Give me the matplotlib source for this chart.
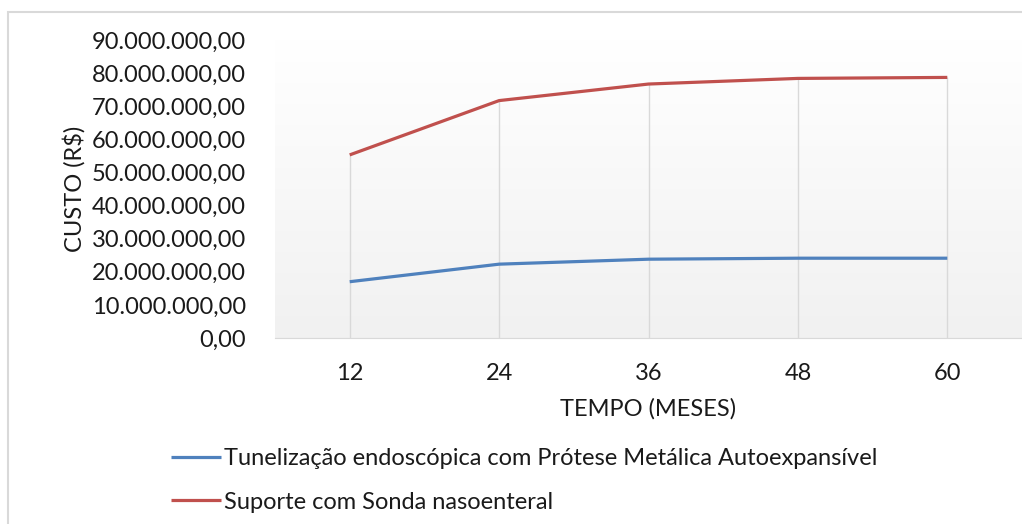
import numpy as np
import matplotlib.pyplot as plt
from matplotlib.patches import Rectangle
from matplotlib.ticker import FuncFormatter

## Data

meses = [12, 24, 36, 48, 60]
custo_tunelizacao = [17.0e6, 22.3e6, 23.8e6, 24.1e6, 24.1e6]
custo_sonda = [55.3e6, 71.7e6, 76.7e6, 78.4e6, 78.7e6]
nome_tunelizacao = 'Tunelização endoscópica com Prótese Metálica Autoexpansível'
nome_sonda = 'Suporte com Sonda nasoenteral'

plt.rcParams['font.family'] = ['Lato', 'DejaVu Sans']
FS = 17
COR_TEXTO = '#1a1a1a'


def formato_br(v, pos=None):
    # 10.000.000,00 style
    s = f'{v:,.2f}'
    return s.replace(',', 'X').replace('.', ',').replace('X', '.')


W, H = 1022, 524
fig = plt.figure(figsize=(W / 100, H / 100), dpi=100)
ax = fig.add_axes([275 / W, 1 - 338 / H, (1022 - 275) / W, (338 - 40) / H])

x = np.arange(len(meses))
ax.set_xlim(-0.5, len(meses) - 0.5)
ax.set_ylim(0, 90e6)

# gradient background of the plot area
grad = np.linspace(1.0, 0.945, 256).reshape(-1, 1)
ax.imshow(np.dstack([grad, grad, grad]), extent=(0, 1, 0, 1), transform=ax.transAxes,
          aspect='auto', zorder=0, interpolation='bicubic')

# drop lines from the highest point down to the axis
topo = np.maximum(custo_tunelizacao, custo_sonda)
ax.vlines(x, 0, topo, color='#d9d9d9', lw=1, zorder=1)

ax.set_xticks(x)
ax.set_xticklabels([str(m) for m in meses])
ax.set_yticks(np.arange(0, 90e6 + 1, 10e6))
ax.yaxis.set_major_formatter(FuncFormatter(formato_br))

ax.plot(x, custo_tunelizacao, color='#4F81BD', lw=2.3, label=nome_tunelizacao,
        solid_capstyle='butt', zorder=3)
ax.plot(x, custo_sonda, color='#C0504D', lw=2.3, label=nome_sonda,
        solid_capstyle='butt', zorder=3)

for s in ['top', 'right', 'left']:
    ax.spines[s].set_visible(False)
ax.spines['bottom'].set_color('#d9d9d9')
ax.tick_params(length=0, labelsize=FS, colors=COR_TEXTO)
ax.tick_params(axis='x', pad=18)
ax.tick_params(axis='y', pad=21)

ax.set_xlabel('TEMPO (MESES)', fontsize=FS, color=COR_TEXTO, labelpad=10)
ax.set_ylabel('CUSTO (R$)', fontsize=FS, color=COR_TEXTO, labelpad=4)

fig.legend(loc='upper left', bbox_to_anchor=(150 / W, 1 - 427 / H), frameon=False,
           fontsize=FS, handlelength=2.1, handletextpad=0.15, labelspacing=0.95,
           labelcolor=COR_TEXTO)

# chart border
fig.patches.append(Rectangle((8 / W, -0.1), 1.2, (H - 12) / H + 0.1, transform=fig.transFigure,
                             fill=False, edgecolor='#d9d9d9', lw=1.5))

fig.savefig('out.png', dpi=100)
